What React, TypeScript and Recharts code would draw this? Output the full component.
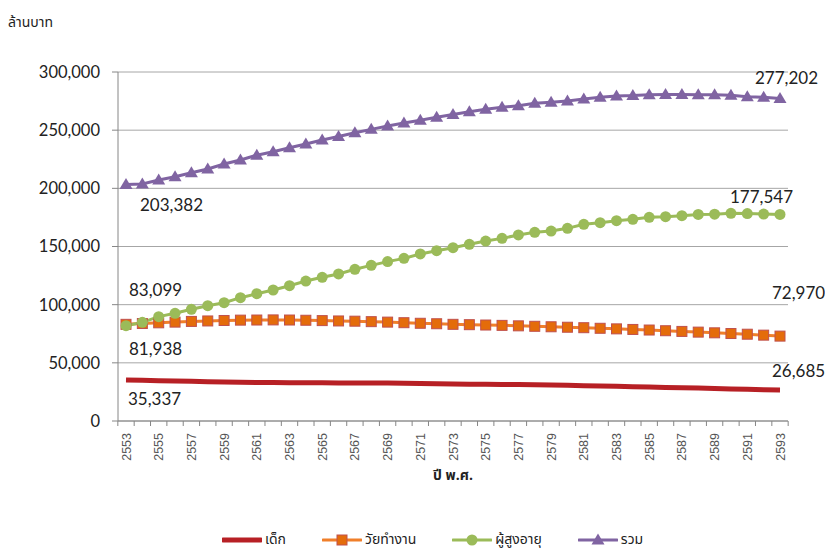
import { LineChart, Line, XAxis, YAxis, CartesianGrid, LabelList } from 'recharts';

const years = [
    '2553', '2554', '2555', '2556', '2557', '2558', '2559', '2560', '2561', '2562',
    '2563', '2564', '2565', '2566', '2567', '2568', '2569', '2570', '2571', '2572',
    '2573', '2574', '2575', '2576', '2577', '2578', '2579', '2580', '2581', '2582',
    '2583', '2584', '2585', '2586', '2587', '2588', '2589', '2590', '2591', '2592', '2593',
];

// ล้านบาท
const children = [
    35337, 35000, 34700, 34400, 34100, 33800, 33500, 33300, 33100, 33000,
    32900, 32800, 32800, 32700, 32700, 32600, 32600, 32400, 32200, 32000,
    31800, 31600, 31500, 31400, 31300, 31100, 30900, 30700, 30400, 30100,
    29800, 29500, 29200, 28900, 28600, 28300, 28000, 27600, 27200, 26900, 26685,
];

const working = [
    83099, 83800, 84400, 85000, 85600, 86000, 86400, 86700, 86800, 86900,
    86800, 86600, 86300, 86000, 85800, 85400, 85000, 84500, 84000, 83600,
    83100, 82800, 82500, 82200, 81800, 81400, 81000, 80600, 80200, 79700,
    79200, 78700, 78200, 77600, 77000, 76400, 75800, 75200, 74600, 73800, 72970,
];

const elderly = [
    81938, 84800, 89700, 92600, 96000, 99100, 101700, 106000, 109400, 112600,
    116300, 120300, 123500, 126400, 130400, 133800, 137000, 139800, 143600, 146400,
    149000, 151900, 154700, 157000, 159900, 162200, 163300, 165600, 169100, 170500,
    172200, 173400, 175100, 175600, 176500, 177600, 177800, 178500, 178300, 177900, 177547,
];

const total = [
    203382, 203700, 207200, 210000, 213400, 216600, 220900, 224400, 228500, 231500,
    234900, 238100, 241500, 244600, 247800, 250700, 253600, 256100, 258600, 261100,
    263500, 265900, 268000, 269700, 271000, 273100, 274000, 275000, 276800, 278200,
    279400, 279700, 280500, 280600, 280600, 280500, 280400, 280000, 278800, 278200, 277202,
];

const yTicks = [0, 50000, 100000, 150000, 200000, 250000, 300000];

const data = years.map((year, i) => ({
    year,
    children: children[i],
    working: working[i],
    elderly: elderly[i],
    total: total[i],
}));

const LAST = years.length - 1;
const NUM_FONT = 'Lato, "Open Sans", sans-serif';
const THAI_FONT = '"Noto Sans Thai", Tahoma, "Noto Sans", sans-serif';
const fmt = (v: number) => v.toLocaleString('en-US');

type Pos = { dx: number; dy: number; anchor: 'start' | 'end' };

// only the first and last points get a value label
const endLabels = (first: Pos, last: Pos) => (props: any) => {
    const { x, y, value, index } = props;
    if (index !== 0 && index !== LAST) return null;
    const p = index === 0 ? first : last;
    return (
        <text
            key={`lbl-${index}`}
            x={x + p.dx}
            y={y + p.dy}
            textAnchor={p.anchor}
            fontSize={17}
            fontFamily={NUM_FONT}
            fill="#222"
        >
            {fmt(value)}
        </text>
    );
};

const SquareDot = (props: any) => {
    const { cx, cy, index } = props;
    return <rect key={`sq-${index}`} x={cx - 5} y={cy - 5} width={10} height={10} fill="#E46C0A" stroke="#C0504D" strokeWidth={1} />;
};

const CircleDot = (props: any) => {
    const { cx, cy, index } = props;
    return <circle key={`ci-${index}`} cx={cx} cy={cy} r={5.5} fill="#9BBB59" />;
};

const TriangleDot = (props: any) => {
    const { cx, cy, index } = props;
    return <path key={`tr-${index}`} d={`M${cx},${cy - 6.5} L${cx + 6.5},${cy + 4.5} L${cx - 6.5},${cy + 4.5} Z`} fill="#8064A2" />;
};

// rotated year labels on every other category, tick marks between categories
const YearTick = (props: any) => {
    const { x, y, payload, index } = props;
    const half = 8.17;
    return (
        <g>
            <line x1={x - half} y1={y} x2={x - half} y2={y + 5} stroke="#868686" />
            {index === LAST && <line x1={x + half} y1={y} x2={x + half} y2={y + 5} stroke="#868686" />}
            {index % 2 === 0 && (
                <text
                    x={x}
                    y={y + 12}
                    transform={`rotate(-90, ${x}, ${y + 12})`}
                    textAnchor="end"
                    dy="0.36em"
                    fontSize={12.5}
                    fontFamily='"Liberation Sans", Arial, sans-serif'
                    fill="#555"
                >
                    {payload.value}
                </text>
            )}
        </g>
    );
};

const legendItems = [
    { name: 'เด็ก', color: '#B72025', width: 5, marker: 'none' },
    { name: 'วัยทำงาน', color: '#F07F2A', width: 3, marker: 'square' },
    { name: 'ผู้สูงอายุ', color: '#9BBB59', width: 3, marker: 'circle' },
    { name: 'รวม', color: '#8064A2', width: 3, marker: 'triangle' },
];

function LegendIcon({ color, width, marker }: { color: string; width: number; marker: string }) {
    return (
        <svg width={40} height={14} style={{ display: 'block' }}>
            <line x1={1} y1={7} x2={39} y2={7} stroke={color} strokeWidth={width} strokeLinecap="round" />
            {marker === 'square' && <rect x={15} y={2} width={10} height={10} fill="#E46C0A" stroke="#C0504D" />}
            {marker === 'circle' && <circle cx={20} cy={7} r={5.5} fill="#9BBB59" />}
            {marker === 'triangle' && <path d="M20,0.5 L26.5,11.5 L13.5,11.5 Z" fill="#8064A2" />}
        </svg>
    );
}

export default function App() {
    return (
        <div style={{ position: 'absolute', left: 0, top: 0, width: 825, height: 549, background: '#fff' }}>
            <div style={{ position: 'absolute', left: 8, top: 12, fontSize: 14, fontFamily: THAI_FONT, color: '#222' }}>
                ล้านบาท
            </div>
            <LineChart width={825} height={549} data={data} margin={{ top: 72, right: 37, left: 18, bottom: 63 }}>
                <CartesianGrid vertical={false} stroke="#A6A6A6" />
                <XAxis
                    dataKey="year"
                    interval={0}
                    padding={{ left: 8, right: 8 }}
                    height={65}
                    tickSize={0}
                    tickMargin={0}
                    tickLine={false}
                    stroke="#868686"
                    tick={<YearTick />}
                    label={{
                        value: 'ปี พ.ศ.',
                        position: 'insideBottom',
                        offset: 6,
                        style: { fontSize: 14, fontWeight: 'bold', fontFamily: THAI_FONT, fill: '#222' },
                    }}
                />
                <YAxis
                    width={100}
                    domain={[0, 300000]}
                    ticks={yTicks}
                    tickFormatter={fmt}
                    tickSize={6}
                    tickMargin={12}
                    stroke="#868686"
                    tick={{ fontSize: 16.5, fontFamily: NUM_FONT, fill: '#222' }}
                />
                <Line dataKey="children" name="เด็ก" stroke="#B72025" strokeWidth={5} dot={false} isAnimationActive={false}>
                    <LabelList content={endLabels({ dx: 2, dy: 25, anchor: 'start' }, { dx: -8, dy: -13, anchor: 'start' })} />
                </Line>
                <Line dataKey="working" name="วัยทำงาน" stroke="#F07F2A" strokeWidth={3} dot={<SquareDot />} isAnimationActive={false}>
                    <LabelList content={endLabels({ dx: 3, dy: -28, anchor: 'start' }, { dx: -8, dy: -37, anchor: 'start' })} />
                </Line>
                <Line dataKey="elderly" name="ผู้สูงอายุ" stroke="#9BBB59" strokeWidth={3} dot={<CircleDot />} isAnimationActive={false}>
                    <LabelList content={endLabels({ dx: 3, dy: 29, anchor: 'start' }, { dx: 13, dy: -11, anchor: 'end' })} />
                </Line>
                <Line dataKey="total" name="รวม" stroke="#8064A2" strokeWidth={3} dot={<TriangleDot />} isAnimationActive={false}>
                    <LabelList content={endLabels({ dx: 14, dy: 27, anchor: 'start' }, { dx: 38, dy: -15, anchor: 'end' })} />
                </Line>
            </LineChart>
            <div
                style={{
                    position: 'absolute',
                    left: 222,
                    top: 531,
                    height: 18,
                    display: 'flex',
                    alignItems: 'center',
                    gap: 36,
                    fontSize: 14,
                    lineHeight: '18px',
                    fontFamily: THAI_FONT,
                    color: '#222',
                }}
            >
                {legendItems.map((it) => (
                    <div key={it.name} style={{ display: 'flex', alignItems: 'center', gap: 3, height: 18 }}>
                        <LegendIcon color={it.color} width={it.width} marker={it.marker} />
                        <span style={{ lineHeight: '18px' }}>{it.name}</span>
                    </div>
                ))}
            </div>
        </div>
    );
}
